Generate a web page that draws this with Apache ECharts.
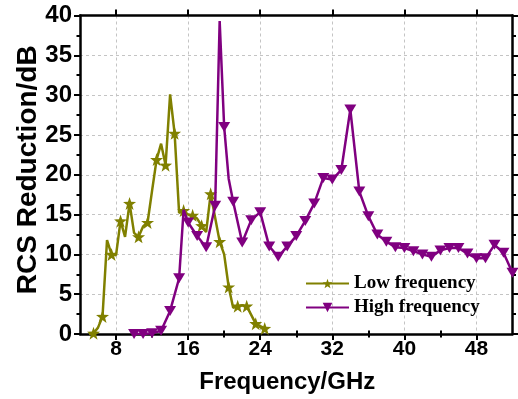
<!DOCTYPE html>
<html>
<head>
<meta charset="utf-8">
<script src="https://cdn.jsdelivr.net/npm/echarts@6/dist/echarts.min.js"></script>
<style>
html,body{margin:0;padding:0;background:#fff;}
#chart{width:518px;height:399px;}
</style>
</head>
<body>
<div id="chart"></div>
<script>
// ---- data ----
var lowFreq = [5.0,5.5,6.0,6.5,7.0,7.5,8.0,8.5,9.0,9.5,10.0,10.5,11.0,11.5,12.0,12.5,13.0,13.5,14.0,14.5,
               15.0,15.5,16.0,16.5,17.0,17.5,18.0,18.5,19.0,19.5,20.0,20.5,21.0,21.5,22.0,22.5,23.0,23.5,24.0,24.5];
var lowRCS  = [0.0,0.1,0.8,2.2,11.8,10.0,9.9,14.2,12.2,16.4,12.7,12.2,13.5,14.0,18.0,21.9,23.9,21.2,30.1,25.2,
               15.2,15.5,15.0,14.9,14.5,13.6,12.8,17.6,14.6,11.6,10.0,5.9,3.3,3.5,3.6,3.5,2.4,1.3,1.0,0.7];
var highFreq = [10,11,12,13,14,15,15.5,16,17,18,19,19.5,20,20.5,21,22,23,24,25,26,27,28,29,30,31,32,33,34,35,
                36,37,38,39,40,41,42,43,44,45,46,47,48,49,50,51,52];
var highRCS  = [0.0,0.0,0.1,0.4,2.9,7.0,15.6,14.0,12.3,10.9,16.1,39.3,26.0,19.5,16.6,11.5,14.3,15.3,11.0,9.7,11.0,12.3,14.2,16.4,19.6,19.4,20.6,28.2,17.9,
                14.8,12.5,11.6,10.9,10.8,10.4,10.0,9.7,10.5,10.8,10.8,10.1,9.5,9.5,11.2,10.2,7.7];
var xTicks = [8,16,24,32,40,48];
var xMinorTicks = [12,20,28,36,44];
var seriesNames = ['Low frequency','High frequency'];
var xTitle = 'Frequency/GHz';
var yTitle = 'RCS Reduction/dB';

// ---- build ----
var STAR = 'path://M0,-10 L2.35,-3.24 L9.51,-3.09 L3.8,1.24 L5.88,8.09 L0,4 L-5.88,8.09 L-3.8,1.24 L-9.51,-3.09 L-2.35,-3.24Z';
function build(xs, ys, markRule) {
  return xs.map(function (x, i) {
    var item = { value: [x, ys[i]] };
    if (!markRule(x)) item.symbol = 'none';
    return item;
  });
}
var lowData = build(lowFreq, lowRCS, function (x) { return Math.abs(x % 1 - 0.5) < 1e-6; });
var highData = build(highFreq, highRCS, function (x) { return Number.isInteger(x); });

var sans = 'Liberation Sans, Arial, sans-serif';
var axisLine = { show: true, onZero: false, lineStyle: { color: '#000', width: 2.5 } };
var gridLine = { show: true, lineStyle: { color: '#c4c4c4', width: 1, type: [3, 3] } };

var chart = echarts.init(document.getElementById('chart'), null, { renderer: 'canvas' });
chart.setOption({
  animation: false,
  backgroundColor: '#fff',
  grid: { left: 80, right: 5.5, top: 15.5, bottom: 61.5, containLabel: false },
  legend: {
    orient: 'vertical',
    left: 300, top: 269,
    itemWidth: 43, itemHeight: 12, itemGap: 5,
    textStyle: { fontFamily: 'Liberation Serif, Times New Roman, serif', fontWeight: 'bold', fontSize: 19, color: '#000' },
    data: seriesNames
  },
  xAxis: [
    {
      type: 'value', min: 4, max: 52, position: 'bottom',
      axisLine: axisLine,
      axisTick: { show: true, length: 6, lineStyle: { width: 2, color: '#000' }, customValues: xTicks },
      axisLabel: { margin: 5, customValues: xTicks, fontFamily: sans, fontWeight: 'bold', fontSize: 21, color: '#000' },
      splitLine: gridLine,
      name: xTitle, nameLocation: 'middle', nameGap: 36, nameMoveOverlap: false,
      nameTextStyle: { fontFamily: sans, fontWeight: 'bold', fontSize: 24, color: '#000', padding: [0, 18, 0, 0] }
    },
    {
      type: 'value', min: 4, max: 52, position: 'top',
      axisLine: axisLine,
      axisTick: { show: true, length: 6, lineStyle: { width: 2, color: '#000' }, customValues: xTicks },
      axisLabel: { show: false },
      splitLine: { show: false }
    },
    {
      type: 'value', min: 4, max: 52, position: 'bottom', gridIndex: 0,
      axisLine: { show: false },
      axisTick: { show: true, length: 3.5, lineStyle: { width: 2, color: '#000' }, customValues: xMinorTicks },
      axisLabel: { show: false },
      splitLine: { show: false }
    },
    {
      type: 'value', min: 4, max: 52, position: 'top', gridIndex: 0,
      axisLine: { show: false },
      axisTick: { show: true, length: 3.5, lineStyle: { width: 2, color: '#000' }, customValues: xMinorTicks },
      axisLabel: { show: false },
      splitLine: { show: false }
    }
  ],
  yAxis: [
    {
      type: 'value', min: 0, max: 40, interval: 5, position: 'left',
      axisLine: axisLine,
      axisTick: { show: true, length: 6, lineStyle: { width: 2, color: '#000' } },
      minorTick: { show: true, splitNumber: 2, length: 3.5, lineStyle: { width: 2, color: '#000' } },
      axisLabel: { margin: 8, fontFamily: sans, fontWeight: 'bold', fontSize: 24, color: '#000' },
      splitLine: gridLine,
      name: yTitle, nameLocation: 'middle', nameGap: 38, nameMoveOverlap: false,
      nameTextStyle: { fontFamily: sans, fontWeight: 'bold', fontSize: 28, color: '#000', padding: [0, 0, 0, 10] }
    },
    {
      type: 'value', min: 0, max: 40, interval: 5, position: 'right',
      axisLine: axisLine,
      axisTick: { show: true, length: 6, lineStyle: { width: 2, color: '#000' } },
      minorTick: { show: true, splitNumber: 2, length: 3.5, lineStyle: { width: 2, color: '#000' } },
      axisLabel: { show: false },
      splitLine: { show: false }
    }
  ],
  series: [
    {
      name: seriesNames[0], type: 'line', xAxisIndex: 0, yAxisIndex: 0,
      data: lowData, symbol: STAR, symbolSize: 13, showAllSymbol: true,
      itemStyle: { color: '#808000' },
      lineStyle: { color: '#808000', width: 2.5 },
      z: 3
    },
    {
      name: seriesNames[1], type: 'line', xAxisIndex: 0, yAxisIndex: 0,
      data: highData, symbol: 'triangle', symbolRotate: 180, symbolSize: [12, 10], showAllSymbol: true,
      itemStyle: { color: '#800080' },
      lineStyle: { color: '#800080', width: 2.5 },
      z: 4
    }
  ]
});
</script>
</body>
</html>
